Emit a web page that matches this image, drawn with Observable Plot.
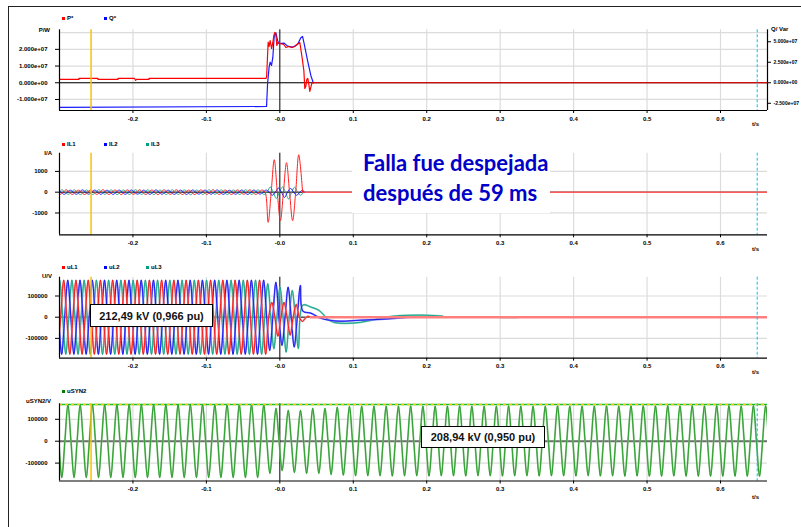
<!DOCTYPE html>
<html><head><meta charset="utf-8">
<script src="https://cdn.jsdelivr.net/npm/d3@7"></script>
<script src="https://cdn.jsdelivr.net/npm/@observablehq/plot@0.6"></script>
<style>
body{margin:0;background:#fff;}
#root{position:relative;width:801px;height:527px;overflow:hidden;background:#fff;}
#root svg{position:absolute;left:0;}
.frame{position:absolute;left:8px;top:6px;width:900px;height:600px;border-left:1.5px solid #222;border-top:1.5px solid #222;}
.lab{position:absolute;font:bold 6px "Liberation Sans",Arial,sans-serif;color:#000;white-space:nowrap;line-height:6px;}
.sw{position:absolute;width:3px;height:3px;}
.box{position:absolute;border:1.5px solid #000;background:#fff;font:bold 11px "Liberation Sans",Arial,sans-serif;display:flex;align-items:center;justify-content:center;box-sizing:border-box;color:#111;}
.note{position:absolute;background:#fff;color:#0000c8;font:bold 22px Lato,"Liberation Sans",sans-serif;line-height:29.5px;box-sizing:border-box;padding-left:11px;white-space:nowrap;}
</style></head><body><div id="root"><div class="frame"></div></div><script>
// ---------- shared ----------
const tDomain = [-0.3, 0.664];
const xTicks = [-0.2, -0.1, 0, 0.1, 0.2, 0.3, 0.4, 0.5, 0.6];
const cursorYellow = [-0.257];
const cursorCyan = [0.65];
const HALF = 1 / 120; // half period of 60 Hz

// ---------- panel 1 : P (W) and Q (Var) ----------
const pTime = [-0.3, -0.2735, -0.2735, -0.2476, -0.2476, -0.2204, -0.2204, -0.1977, -0.1963, -0.195, -0.1782, -0.1782, -0.019, -0.018,
  -0.0159, -0.0146, -0.0132, -0.0113, -0.0095, -0.0082, -0.0068, -0.0054, -0.0041, -0.0027, 0, 0.0054, 0.0082, 0.0122, 0.0163, 0.0204,
  0.0231, 0.0272, 0.0299, 0.0327, 0.034, 0.0354, 0.0367, 0.0381, 0.0395, 0.0408, 0.0422, 0.0435, 0.0449, 0.664];
const pValue = [2.0e6, 2.0e6, 2.6e6, 2.6e6, 2.0e6, 2.0e6, 2.6e6, 2.6e6, 1.4e6, 2.0e6, 2.0e6, 2.6e6, 2.6e6, 3.4e6,
  2.43e7, 2.17e7, 2.53e7, 2.05e7, 2.41e7, 2.83e7, 3.01e7, 2.89e7, 2.23e7, 2.41e7, 2.35e7, 2.29e7, 2.11e7, 2.17e7, 2.11e7, 2.17e7,
  2.29e7, 2.41e7, 1.63e7, 7.4e6, -3.4e6, -2.2e6, 2.0e6, 2.6e6, -1.0e6, -5.2e6, -2.8e6, -4e5, 0, 0];
const qTime = [-0.3, -0.0181, -0.0167, -0.0146, -0.0132, -0.0113, -0.0095, -0.0078, -0.0054, -0.0031, -0.001, 0.0059, 0.0105,
  0.0173, 0.0241, 0.0286, 0.0309, 0.0331, 0.0377, 0.0422, 0.0453, 0.046];
const qValue = [-3.01e7, -2.89e7, -1.2e6, 1.9e7, 2.51e7, 2.11e7, 3.12e7, 5.56e7, 6.1e7, 5.16e7, 4.76e7, 4.83e7, 4.46e7,
  4.34e7, 4.67e7, 5.49e7, 5.65e7, 4.76e7, 2.72e7, 8.9e6, 7e5, 0];
const pTicks = [-1e7, 0, 1e7, 2e7];
const pGrid = [-1e7, 0, 1e7, 2e7, 3e7];
const qTicks = [-2.5e7, 0, 2.5e7, 5e7];

// ---------- panel 2 : phase currents (A), extremes per half cycle ----------
const iL1Start = -0.3076;
const iL1Ext = [110, -105, 115, -110, 100, -115, 110, -105, 120, -110, 105, -115, 110, -100, 115, -110, 105, -120,
  110, -105, 115, -110, 100, -115, 110, -105, 120, -110, 105, -115, 110, -100, 115, -110, 105,
  -1450, 1560, -1370, 1420, -1370, 1800];
const iL1Tail = [[0.031, 0]];
const iL1Post = [[0.031, 0], [0.664, 0]];
const iL2Start = -0.3020;
const iL2Ext = [100, -105, 95, -100, 110, -95, 100, -105, 95, -110, 100, -100, 105, -95, 100, -105, 110, -100,
  95, -105, 100, -110, 105, -95, 100, -100, 110, -105, 95, -100, 105, -110, 100, -95, 105,
  -150, 200, -250, 180, -150, 100];
const iL2Tail = [[0.033, 0]];
const iL3Start = -0.3048;
const iL3Ext = [-110, 115, -105, 110, -120, 105, -110, 115, -100, 110, -115, 105, -110, 120, -105, 110, -115, 100,
  -110, 115, -105, 110, -120, 105, -110, 115, -100, 110, -115, 105, -110, 120, -105, 110, -110,
  250, -300, 250, -330, 240, -150];
const iL3Tail = [[0.032, 0]];
const iTicks = [-1000, 0, 1000];

// ---------- panel 3 : phase voltages (kV), extremes per half cycle ----------
const uL1Start = -0.3026;
const uL1Ext = [-175, 175, -175, 175, -175, 175, -175, 175, -175, 175, -175, 175, -175, 175, -175, 175, -175, 175,
  -175, 175, -175, 175, -175, 175, -175, 175, -175, 175, -175, 175, -175, 175, -175, 175, -175,
  70, -90, 70, -85, 60, -20];
const uL1Tail = [[0.034, -8], [0.038, 4], [0.042, 0]];
const uL1Post = [[0.042, 0], [0.664, 0]];
const uL2Start = -0.3054;
const uL2Ext = [175, -175, 175, -175, 175, -175, 175, -175, 175, -175, 175, -175, 175, -175, 175, -175, 175, -175,
  175, -175, 175, -175, 175, -175, 175, -175, 175, -175, 175, -175, 175, -175, 175, -175, 175,
  -157, 165, -133, 142, -141, 150];
const uL2Tail = [[0.0313, 29], [0.0422, 19], [0.0558, -5], [0.0667, -14], [0.083, -19], [0.1102, -14], [0.1374, -10],
  [0.1578, -5], [0.1823, 0], [0.2626, 2]];
const uL3Start = -0.3081;
const uL3Ext = [-175, 175, -175, 175, -175, 175, -175, 175, -175, 175, -175, 175, -175, 175, -175, 175, -175, 175,
  -175, 175, -175, 175, -175, 175, -175, 175, -175, 175, -175, 175, -175, 175, -175, 175, -175,
  158, -149, 142, -165, 126, -148];
const uL3Tail = [[0.0313, 57], [0.0422, 48], [0.0531, 33], [0.0599, 10], [0.0653, -10], [0.0735, -24], [0.0898, -29],
  [0.1102, -24], [0.1306, -10], [0.1551, 5], [0.1918, 10], [0.2218, 5]];
const uL3Late = [[0.3007, -2], [0.3238, -2]];
const uTicks = [-100000, 0, 100000];

// ---------- panel 4 : uSYN2 (kV), extremes per half cycle ----------
const uSynStart = -0.3052;
const uSynExt = [167, -166, 167, -166, 167, -166, 167, -166, 167, -166, 167, -166, 167, -166, 167, -166, 167, -166,
  167, -166, 167, -166, 167, -166, 167, -166, 167, -166, 167, -166, 167, -166, 167, -166, 167,
  -147, 150, -134, 141, -143, 141, -147, 150, -147, 150, -152, 155, -155, 159,
  -158, 160, -158, 160, -158, 160, -159, 160, -158, 161, -158, 160, -159, 160, -158, 160, -158, 161, -159, 160,
  -158, 160, -158, 160, -159, 161, -158, 160, -158, 160, -159, 160, -158, 161, -158, 160, -159, 160, -158, 160,
  -159, 161, -158, 160, -160, 161, -159, 162, -160, 161, -160, 162, -159, 161, -160, 162, -160, 161, -160, 162,
  -160, 162, -160, 161, -160, 162, -160, 162, -160];
const uSynPeakLevel = [167600];

const labels = {
  legend1: [["P*", "#ff0000"], ["Q*", "#0000ff"]],
  legend2: [["IL1", "#ff0000"], ["IL2", "#0000ff"], ["IL3", "#00a080"]],
  legend3: [["uL1", "#ff0000"], ["uL2", "#0000ff"], ["uL3", "#00a080"]],
  legend4: [["uSYN2", "#008000"]],
  units: ["P/W", "I/A", "U/V", "uSYN2/V"],
  qUnit: "Q/ Var",
  xUnit: "t/s",
  box3: "212,49 kV (0,966 pu)",
  box4: "208,94 kV (0,950 pu)",
  note: ["Falla fue despejada", "después de 59 ms"]
};

// ---------- helpers ----------
function pairs(ts, vs) { return ts.map((t, i) => ({t, v: vs[i]})); }
function tailPts(arr, unit) { return arr.map(([t, v]) => ({t, v: v * unit})); }
function wave(t0, ext, unit, tail = []) {
  const pts = [];
  ext.forEach((v, k) => {
    const t = t0 + k * HALF;
    if (k > 0) pts.push({t: t - HALF / 2, v: 0});
    pts.push({t, v: v * unit});
  });
  return pts.concat(tailPts(tail, unit));
}
const fmtT = d => d === 0 ? "-0.0" : d.toFixed(1);
const fmtE = d => d.toExponential(3).replace(/e([+-])(\d)$/, "e$10$2");
const FONT = "'Liberation Sans', Arial, sans-serif";
const root = document.getElementById("root");

function panel({top, height, plotTop, plotBottom, yDomain, yTicks, yGrid, yFormat, zero, lines, extra = []}) {
  const marks = [
    Plot.gridX(xTicks.filter(d => d !== 0), {stroke: "#dcdcdc", strokeOpacity: 1, strokeWidth: 1.2}),
    Plot.gridY(yGrid, {stroke: "#dcdcdc", strokeOpacity: 1, strokeWidth: 1.2}),
    Plot.ruleY([0], {stroke: zero.color, strokeWidth: zero.width}),
    Plot.ruleX([0], {stroke: "#000", strokeWidth: 1}),
    ...lines,
    ...extra,
    Plot.ruleX(cursorYellow, {stroke: "#ffc000", strokeWidth: 1.5}),
    Plot.ruleX(cursorCyan, {stroke: "#00c0f0", strokeWidth: 1, strokeDasharray: "3,2"}),
    Plot.axisX(xTicks, {anchor: "bottom", tickSize: 3, tickPadding: 3, tickFormat: fmtT, label: null}),
    Plot.axisY(yTicks, {anchor: "left", tickSize: 4, tickPadding: 8, tickFormat: yFormat, label: null}),
    Plot.ruleX([tDomain[0]], {stroke: "#000", strokeWidth: 1.2}),
    Plot.ruleY([yDomain[0]], {stroke: "#000", strokeWidth: 1.2})
  ];
  const svg = Plot.plot({
    width: 801, height,
    marginLeft: 59, marginRight: 34,
    marginTop: plotTop - top, marginBottom: top + height - plotBottom,
    x: {domain: tDomain},
    y: {domain: yDomain},
    style: {background: "transparent", fontFamily: FONT, fontSize: "6px", fontWeight: "bold", color: "#000", overflow: "visible"},
    marks
  });
  svg.style.top = top + "px";
  root.appendChild(svg);
}
function twoTone(data, dark, light, wDark = 0.9, wLight = 2.0) {
  return [
    Plot.line(data, {x: "t", y: "v", curve: "catmull-rom", stroke: light, strokeWidth: wLight, clip: true}),
    Plot.line(data, {x: "t", y: "v", curve: "catmull-rom", stroke: dark, strokeWidth: wDark, clip: true})
  ];
}

// ---------- panel 1 ----------
const pDomain = [-1.66e7, 3.17e7];
const Q2P = (20.5 / 2.5e7) / (16.7 / 1e7);
panel({
  top: 0, height: 126, plotTop: 29.3, plotBottom: 110,
  yDomain: pDomain, yTicks: pTicks, yGrid: pGrid, yFormat: fmtE,
  zero: {color: "#000", width: 1},
  lines: [
    Plot.line(pairs(qTime, qValue.map(q => q * Q2P)), {x: "t", y: "v", stroke: "#1a1aff", strokeWidth: 1.2, clip: true}),
    Plot.line(pairs(pTime, pValue), {x: "t", y: "v", stroke: "#ff0000", strokeWidth: 1.2, clip: true})
  ],
  extra: [
    Plot.axisY(qTicks.map(q => q * Q2P), {anchor: "right", tickSize: 3, tickPadding: 3, fontSize: 5, tickFormat: d => fmtE(Math.round(d / Q2P)), label: null}),
    Plot.ruleX([tDomain[1]], {stroke: "#000", strokeWidth: 1.2})
  ]
});

// ---------- panel 2 ----------
panel({
  top: 126, height: 124, plotTop: 152.7, plotBottom: 234.3,
  yDomain: [-2050, 1875], yTicks: iTicks, yGrid: iTicks, yFormat: d => String(d),
  zero: {color: "#000", width: 1},
  lines: [
    Plot.line(tailPts(iL1Post, 1), {x: "t", y: "v", stroke: "#ff5a5a", strokeWidth: 1.6, clip: true}),
    Plot.line(wave(iL3Start, iL3Ext, 1, iL3Tail), {x: "t", y: "v", curve: "catmull-rom", stroke: "#2aa88c", strokeWidth: 1, clip: true}),
    Plot.line(wave(iL2Start, iL2Ext, 1, iL2Tail), {x: "t", y: "v", curve: "catmull-rom", stroke: "#2020ff", strokeWidth: 1, clip: true}),
    Plot.line(wave(iL1Start, iL1Ext, 1, iL1Tail), {x: "t", y: "v", curve: "catmull-rom", stroke: "#ff2020", strokeWidth: 1, clip: true})
  ]
});

// ---------- panel 3 ----------
panel({
  top: 250, height: 124, plotTop: 276.7, plotBottom: 357.7,
  yDomain: [-193400, 188700], yTicks: uTicks, yGrid: uTicks, yFormat: d => String(d),
  zero: {color: "#555", width: 1.5},
  lines: [
    ...twoTone(wave(uL3Start, uL3Ext, 1000, uL3Tail), "#009a7c", "#78cdb9", 0.8, 1.8),
    Plot.line(tailPts(uL3Late, 1000), {x: "t", y: "v", stroke: "#3a9a7c", strokeWidth: 1.3, clip: true}),
    ...twoTone(wave(uL2Start, uL2Ext, 1000, uL2Tail), "#0000ee", "#8080ff", 0.8, 1.8),
    ...twoTone(wave(uL1Start, uL1Ext, 1000, uL1Tail), "#ee0000", "#ff8080", 0.8, 1.8),
    Plot.line(tailPts(uL1Post, 1000), {x: "t", y: "v", stroke: "#ff7f7f", strokeWidth: 2.4, clip: true})
  ]
});

// ---------- panel 4 ----------
panel({
  top: 374, height: 153, plotTop: 403.3, plotBottom: 480.5,
  yDomain: [-181700, 170800], yTicks: uTicks, yGrid: uTicks, yFormat: d => String(d),
  zero: {color: "#6e6e6e", width: 2},
  lines: [
    ...twoTone(wave(uSynStart, uSynExt, 1000), "#0a8a0a", "#82c882", 0.7, 1.8)
  ],
  extra: [
    Plot.ruleY(uSynPeakLevel, {stroke: "#20c020", strokeWidth: 1.5}),
    Plot.ruleY(uSynPeakLevel, {stroke: "#ffc000", strokeWidth: 1.5, strokeDasharray: "3,3"})
  ]
});

// ---------- text overlays ----------
function addLab(text, left, cy, extraStyle = "") {
  const d = document.createElement("div");
  d.className = "lab"; d.textContent = text;
  d.style.cssText += `left:${left}px;top:${cy - 3}px;` + extraStyle;
  root.appendChild(d); return d;
}
function addRight(text, right, cy) {
  return addLab(text, 0, cy, `width:${right}px;text-align:right;`);
}
function addLegend(items, cy) {
  const xs = [62, 104, 146];
  items.forEach(([name, color], i) => {
    const s = document.createElement("div");
    s.className = "sw"; s.style.cssText = `left:${xs[i]}px;top:${cy - 1.5}px;background:${color};`;
    root.appendChild(s);
    addLab(name, xs[i] + 5, cy);
  });
}
addLegend(labels.legend1, 18);
addLegend(labels.legend2, 144);
addLegend(labels.legend3, 267);
addLegend(labels.legend4, 391);
addRight(labels.units[0], 50, 30);
addRight(labels.units[1], 52, 153);
addRight(labels.units[2], 52, 276);
addRight(labels.units[3], 51, 401);
addLab(labels.qUnit, 771, 29);
[124, 249, 372, 497].forEach(y => addLab(labels.xUnit, 752, y));

function addBox(text, l, t, w, h) {
  const d = document.createElement("div");
  d.className = "box"; d.textContent = text;
  d.style.cssText += `left:${l}px;top:${t}px;width:${w}px;height:${h}px;`;
  root.appendChild(d);
}
addBox(labels.box3, 90, 304, 123, 23);
addBox(labels.box4, 421, 426, 124, 22);

const note = document.createElement("div");
note.className = "note";
note.style.cssText += "left:352px;top:148px;width:198px;height:65px;";
note.innerHTML = labels.note.map(s => `<div>${s}</div>`).join("");
root.appendChild(note);
</script></body></html>
